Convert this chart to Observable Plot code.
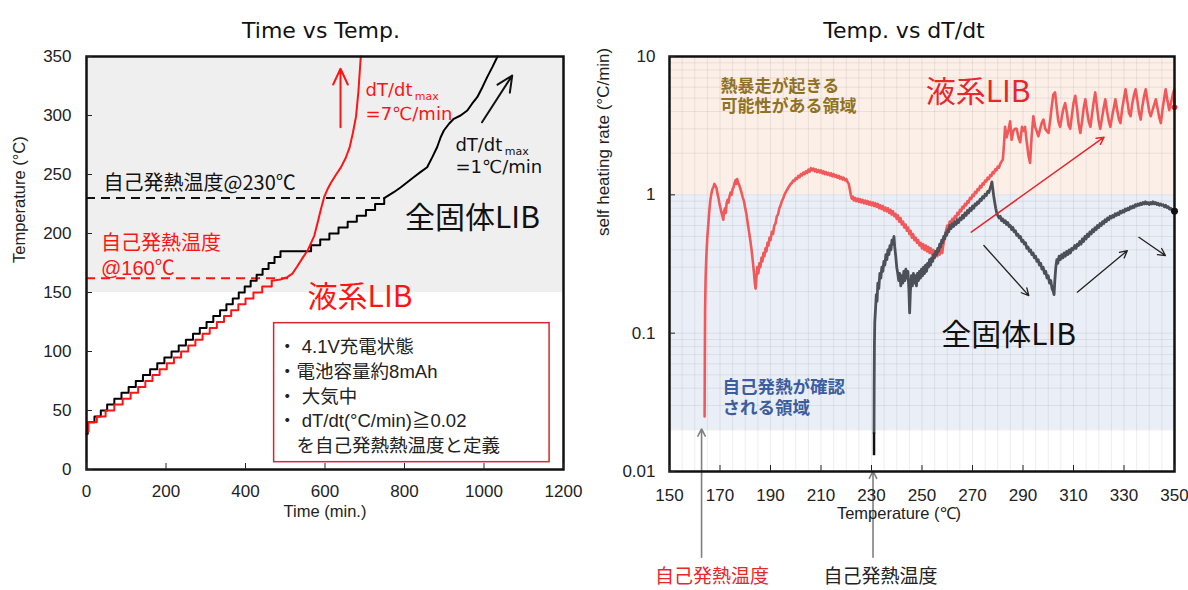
<!DOCTYPE html>
<html><head><meta charset="utf-8">
<script src="https://cdn.jsdelivr.net/npm/d3@7"></script>
<script src="https://cdn.jsdelivr.net/npm/@observablehq/plot@0.6"></script>
<style>
body{margin:0;background:#fff;}
#wrap{position:relative;width:1188px;height:590px;overflow:hidden;}
#left{position:absolute;left:0;top:0;}
#right{position:absolute;left:590px;top:0;}
</style></head><body>
<div id="wrap"><div id="left"></div><div id="right"></div></div>
<script>
// ---------------- Left panel: Time vs Temp. ----------------
const timeTicks = [0, 200, 400, 600, 800, 1000, 1200];
const tempTicks = [0, 50, 100, 150, 200, 250, 300, 350];

// 全固体LIB (black): heat-wait-search staircase, then self-heating ramp
const solidStepTime = [0,3,20,36,52,70,88,106,124,142,160,178,196,214,232,250,268,285,302,319,336,352,368,383,398,413,428,443,458,473,488,565,588,611,634,657,680,703,726,749];
const solidStepTemp = [30,40,45,50,55,60,65,70,75,80,85,90,95,100,105,110,115,120,125,130,135,140,145,150,155,160,165,170,175,180,185,190,195,200,205,210,215,220,225,230];
const solidRampTime = [749,773,790,807,823,840,857,870,882,891,899,912,924,941,958,970,983,996,1008,1021,1034];
const solidRampTemp = [230,235,239,243.5,247.7,252,256.2,264.7,273.1,281.6,287.3,293,297.2,300,304.2,310,315.5,324,332.5,341,350];

// 液系LIB (red)
const liquidStepTime = [0,5,26,48,70,91,111,130,148,166,184,202,220,238,256,274,292,310,328,346,364,382,400,420,442,466];
const liquidStepTemp = [32,40,45,50,55,60,65,70,75,80,85,90,95,100,105,110,115,120,125,130,135,140,145,150,155,160];
const liquidRampTime = [466,488,505,518,530,545,557,565,573,582,590,598,607,615,628,640,652,662,670,678,684,688,690];
const liquidRampTemp = [160,161,163,166,172,180,186,192,198,210,221,231,238,243,250,256,264,273,285,299,320,340,350];

const selfHeatBand = [150, 350];          // grey zone
const onsetTemps = [230, 162];            // dashed onset lines (solid, liquid)
const onsetEndTimes = [749, 508];

// ---------------- Right panel: Temp. vs dT/dt ----------------
const rateTempTicks = [150,170,190,210,230,250,270,290,310,330,350];
const rateTicks = [0.01, 0.1, 1, 10];
const runawayBand = [1, 10];
const detectBand = [0.02, 1];

const liquidRate = [
[163.9,0.025],[164,0.07],[164.1,0.15],[164.3,0.25],[164.6,0.36],[165,0.5],[165.4,0.62],[165.8,0.78],[166.2,0.92],[166.6,1.02],[167,1.1],[167.4,1.14],[167.8,1.2],[168.2,1.16],[168.6,1.12],[169,1.02],[169.4,0.95],[169.8,0.86],[170.2,0.8],[170.6,0.74],[171,0.7],[171.3,0.66],[171.6,0.76],[172,0.8],[172.3,0.74],[172.6,0.86],[173,0.92],[173.4,0.88],[173.8,0.98],[174.2,1.04],[174.6,1.0],[175,1.1],[175.4,1.14],[175.8,1.22],[176.2,1.28],[176.5,1.2],[176.8,1.3],[177.2,1.22],[177.6,1.18],[178,1.12],[178.5,1.04],[179,0.96],[179.5,0.9],[180,0.8],[180.5,0.72],[181,0.62],[181.5,0.54],[182,0.47],[182.5,0.4],[183,0.33],[183.4,0.28],[183.8,0.23],[184.1,0.21],[184.4,0.25],[184.8,0.3],[185.2,0.27],[185.6,0.32],[186,0.3],[186.4,0.35],[186.8,0.33],[187.2,0.38],[187.6,0.36],[188,0.41],[188.4,0.39],[188.8,0.45],[189.2,0.43],[189.6,0.49],[190,0.47],[190.5,0.54],[191,0.52],[191.5,0.6],[192,0.62],[192.5,0.7],[193,0.72],[193.5,0.8],[194,0.84],[194.5,0.9],[195,0.94],[195.5,1.0],[196,1.04],[196.5,1.08],[197,1.12],[197.5,1.16],[198,1.2],[198.5,1.22],[199,1.27],[199.5,1.26],[200,1.32],[200.5,1.3],[201,1.37],[201.5,1.34],[202,1.41],[202.5,1.38],[203,1.45],[203.5,1.41],[204,1.48],[204.5,1.44],[205,1.52],[205.5,1.47],[206,1.56],[206.5,1.5],[207,1.55],[207.5,1.48],[208,1.53],[208.5,1.46],[209,1.51],[209.5,1.45],[210,1.5],[210.5,1.43],[211,1.48],[211.5,1.41],[212,1.46],[212.5,1.4],[213,1.44],[213.5,1.38],[214,1.43],[214.5,1.36],[215,1.41],[215.5,1.35],[216,1.39],[216.5,1.33],[217,1.37],[217.5,1.31],[218,1.35],[218.5,1.29],[219,1.33],[219.5,1.27],[220,1.3],[220.5,1.24],[221,1.2],[221.4,1.1],[221.8,1.0],[222.2,0.94],[222.6,0.97],[223,0.91],[223.5,0.95],[224,0.9],[224.5,0.94],[225,0.89],[225.5,0.93],[226,0.88],[226.5,0.92],[227,0.87],[227.5,0.91],[228,0.86],[228.5,0.9],[229,0.85],[229.5,0.89],[230,0.84],[230.5,0.88],[231,0.83],[231.5,0.87],[232,0.82],[232.5,0.86],[233,0.8],[233.5,0.84],[234,0.79],[234.5,0.83],[235,0.77],[235.5,0.81],[236,0.76],[236.5,0.8],[237,0.74],[237.5,0.78],[238,0.72],[238.5,0.76],[239,0.7],[239.5,0.73],[240,0.67],[240.5,0.71],[241,0.64],[241.5,0.68],[242,0.61],[242.5,0.64],[243,0.58],[243.5,0.61],[244,0.55],[244.5,0.58],[245,0.52],[245.5,0.55],[246,0.49],[246.5,0.52],[247,0.47],[247.5,0.49],[248,0.45],[248.5,0.47],[249,0.43],[249.5,0.45],[250,0.41],[250.5,0.44],[251,0.4],[251.5,0.43],[252,0.39],[252.5,0.42],[253,0.38],[253.5,0.41],[254,0.37],[254.5,0.4],[255,0.36],[255.5,0.39],[256,0.36],[256.5,0.4],[257,0.37],[257.5,0.41],[258,0.38],[258.5,0.44],[259,0.5],[259.5,0.55],[260,0.6],[260.5,0.58],[261,0.64],[261.5,0.62],[262,0.67],[262.5,0.65],[263,0.7],[263.5,0.68],[264,0.74],[264.5,0.72],[265,0.78],[265.5,0.76],[266,0.82],[266.5,0.8],[267,0.86],[267.5,0.84],[268,0.9],[268.5,0.88],[269,0.95],[269.5,0.93],[270,1.0],[270.5,0.98],[271,1.05],[271.5,1.03],[272,1.1],[272.5,1.08],[273,1.16],[273.5,1.13],[274,1.21],[274.5,1.19],[275,1.27],[275.5,1.25],[276,1.33],[276.5,1.3],[277,1.39],[277.5,1.37],[278,1.46],[278.5,1.43],[279,1.53],[279.5,1.5],[280,1.6],[280.5,1.57],[281,1.68],[281.5,1.74],[282,1.8],
[282.4,2.2],[282.9,3.1],[283.5,2.6],[284.2,2.9],[284.9,3.4],[285.5,2.5],[286.2,2.9],[286.8,3.0],[287.5,3.0],[288.2,2.6],[288.9,2.4],[289.6,3.1],[290.2,2.9],[290.8,3.1],[291.5,2.4],[292.2,1.9],[292.8,1.7],[293.4,2.6],[294.1,3.7],[294.8,3.1],[295.4,2.9],[296.1,2.65],[296.8,3.0],[297.4,3.3],[298.1,3.5],[298.8,3.0],[299.4,2.9],[300.1,2.8],[300.8,3.5],[301.4,4.4],[302,5.3],[302.7,5.5],[303.4,4.2],[304,3.4],[304.7,3.1],[305.3,3.6],[306,4.2],[306.7,4.6],[307.4,3.9],[308,3.2],[308.7,3.0],[309.4,3.8],[310,4.6],[310.7,5.2],[311.4,4.2],[312,3.3],[312.7,2.8],[313.4,3.4],[314,4.2],[314.7,4.9],[315.4,4.0],[316,3.4],[316.7,3.1],[317.4,3.9],[318,4.7],[318.6,5.5],[319.3,4.3],[320,3.4],[320.6,3.0],[321.3,3.6],[322,4.3],[322.6,4.9],[323.3,4.0],[324,3.4],[324.6,3.1],[325.3,3.7],[326,4.3],[326.6,4.9],[327.3,4.1],[328,3.5],[328.6,3.3],[329.3,4.2],[330,5.0],[330.6,5.8],[331.3,4.8],[332,3.9],[332.6,3.7],[333.3,4.6],[334,5.3],[334.6,5.8],[335.3,4.8],[336,3.9],[336.6,3.5],[337.3,4.4],[338,5.2],[338.6,5.8],[339.3,4.8],[340,4.0],[340.6,3.7],[341.3,4.1],[342,4.5],[342.6,4.9],[343.3,4.2],[344,3.6],[344.6,3.3],[345.3,4.2],[346,5.1],[346.5,5.8],[347.2,4.8],[347.9,4.1],[348.6,4.6],[349.3,5.3],[349.9,5.8],[350,4.3]
];

const solidRate = [
[231,0.019],[231.05,0.04],[231.15,0.08],[231.3,0.12],[231.6,0.15],[231.9,0.19],[232.2,0.17],[232.5,0.23],[232.9,0.21],[233.3,0.27],[233.7,0.25],[234.1,0.3],[234.5,0.28],[234.9,0.33],[235.3,0.31],[235.7,0.37],[236.1,0.34],[236.5,0.4],[236.9,0.37],[237.3,0.43],[237.7,0.4],[238.1,0.47],[238.5,0.44],[238.9,0.5],[239.2,0.42],[239.6,0.36],[240,0.3],[240.4,0.27],[240.8,0.24],[241.2,0.27],[241.6,0.22],[242,0.26],[242.4,0.23],[242.8,0.28],[243.2,0.24],[243.6,0.29],[244,0.25],[244.4,0.28],[244.8,0.21],[245.1,0.14],[245.4,0.2],[245.8,0.26],[246.2,0.22],[246.6,0.27],[247,0.23],[247.4,0.26],[247.8,0.22],[248.2,0.27],[248.6,0.24],[249,0.28],[249.4,0.25],[249.8,0.29],[250.2,0.26],[250.6,0.3],[251,0.27],[251.4,0.31],[251.8,0.28],[252.2,0.32],[252.6,0.3],[253,0.34],[253.4,0.31],[253.8,0.35],[254.2,0.33],[254.6,0.37],[255,0.35],[255.4,0.39],[255.8,0.37],[256.2,0.41],[256.6,0.39],[257,0.44],[257.4,0.42],[257.8,0.47],[258.2,0.45],[258.6,0.5],[259,0.48],[259.4,0.53],[259.8,0.51],[260.2,0.56],[260.6,0.54],[261,0.6],[261.5,0.57],[262,0.62],[262.5,0.59],[263,0.64],[263.5,0.61],[264,0.66],[264.5,0.63],[265,0.68],[265.5,0.66],[266,0.71],[266.5,0.68],[267,0.74],[267.5,0.71],[268,0.77],[268.5,0.74],[269,0.8],[269.5,0.77],[270,0.83],[270.5,0.8],[271,0.86],[271.5,0.84],[272,0.89],[272.5,0.87],[273,0.93],[273.5,0.91],[274,0.97],[274.5,0.95],[275,1.01],[275.5,0.99],[276,1.06],[276.5,1.04],[277,1.12],[277.4,1.18],[277.7,1.24],[278,1.12],[278.4,0.98],[278.8,0.88],[279.2,0.8],[279.6,0.74],[280,0.71],[280.5,0.68],[281,0.7],[281.5,0.65],[282,0.67],[282.5,0.63],[283,0.65],[283.5,0.61],[284,0.63],[284.5,0.59],[285,0.6],[285.5,0.56],[286,0.58],[286.5,0.54],[287,0.55],[287.5,0.51],[288,0.52],[288.5,0.49],[289,0.5],[289.5,0.46],[290,0.47],[290.5,0.44],[291,0.45],[291.5,0.41],[292,0.42],[292.5,0.39],[293,0.4],[293.5,0.37],[294,0.38],[294.5,0.35],[295,0.36],[295.5,0.33],[296,0.34],[296.5,0.31],[297,0.32],[297.5,0.29],[298,0.3],[298.5,0.27],[299,0.28],[299.5,0.25],[300,0.26],[300.5,0.23],[301,0.24],[301.5,0.21],[302,0.2],[302.3,0.19],[302.6,0.24],[303,0.3],[303.4,0.34],[303.8,0.32],[304.3,0.36],[304.8,0.34],[305.3,0.37],[305.8,0.35],[306.3,0.38],[306.8,0.36],[307.3,0.39],[307.8,0.37],[308.3,0.4],[308.8,0.38],[309.3,0.41],[309.8,0.4],[310.5,0.43],[311,0.41],[311.5,0.44],[312,0.43],[312.5,0.46],[313,0.44],[313.5,0.48],[314,0.46],[314.5,0.5],[315,0.48],[315.5,0.52],[316,0.5],[316.5,0.54],[317,0.52],[317.5,0.56],[318,0.54],[318.5,0.58],[319,0.56],[319.5,0.6],[320,0.58],[320.5,0.62],[321,0.6],[321.5,0.64],[322,0.62],[322.5,0.66],[323,0.64],[323.5,0.68],[324,0.66],[324.5,0.7],[325,0.68],[325.5,0.71],[326,0.69],[326.5,0.73],[327,0.71],[327.5,0.74],[328,0.72],[328.5,0.76],[329,0.74],[329.5,0.77],[330,0.75],[330.5,0.79],[331,0.77],[331.5,0.8],[332,0.78],[332.5,0.82],[333,0.8],[333.5,0.83],[334,0.81],[334.5,0.85],[335,0.83],[335.5,0.86],[336,0.84],[336.5,0.87],[337,0.85],[337.5,0.88],[338,0.86],[338.5,0.89],[339,0.86],[339.5,0.88],[340,0.85],[340.5,0.88],[341,0.86],[341.5,0.89],[342,0.86],[342.5,0.88],[343,0.85],[343.5,0.87],[344,0.84],[344.5,0.86],[345,0.84],[345.5,0.85],[346,0.82],[346.5,0.84],[347,0.81],[347.5,0.82],[348,0.79],[348.5,0.8],[349,0.77],[349.5,0.78],[350,0.76]
];
const solidOnsetTail = [0.013, 0.019];   // dark segment at onset
const endPoints = [[350, 4.3, "liquid"], [350, 0.76, "solid"]];

// ---------------- Annotations (data coordinates) ----------------
const leftNotes = [
  ["自己発熱温度@230℃", 42.8, 242.6],
  ["自己発熱温度\n@160℃", 36.5, 182],
  ["全固体LIB", 971, 212.5],
  ["液系LIB", 688, 146]
];
const rateNotesLeft = [["dT/dt", 702, 321.2], ["max", 826, 316.5], ["=7℃/min", 702, 301.4]];
const rateNotesRight = [["dT/dt", 928, 274.6], ["max", 1052, 269.9], ["=1℃/min", 928, 256.2]];
const conditionBox = [{x1: 472, x2: 1165, y1: 6.2, y2: 124}];
const conditionText = "・ 4.1V充電状態\n・電池容量約8mAh\n・ 大気中\n・ dT/dt(°C/min)≧0.02\n　を自己発熱熱温度と定義";
const conditionAt = [482, 63.4];
const leftArrows = [
  {x1: 639, y1: 290, x2: 639, y2: 339.6, c: "#ff1414"},
  {x1: 995, y1: 294.3, x2: 1071, y2: 333.9, c: "#111"}
];

const rightArrows = [
  {x1: 269.5, y1: 0.537, x2: 322.1, y2: 2.61, c: "#e8262c", w: 1.5},
  {x1: 274.5, y1: 0.43, x2: 292.3, y2: 0.187, c: "#222", w: 1.3},
  {x1: 311.5, y1: 0.198, x2: 331.3, y2: 0.395, c: "#222", w: 1.3},
  {x1: 335.9, y1: 0.493, x2: 346.4, y2: 0.364, c: "#222", w: 1.3},
  {x1: 162.7, y1: 0.0024, x2: 162.7, y2: 0.0203, c: "#808080", w: 1.6},
  {x1: 230.6, y1: 0.0024, x2: 230.6, y2: 0.01005, c: "#808080", w: 1.6}
];
const runawayNote = [["熱暴走が起きる\n可能性がある領域", 170.2, 5.23]];
const detectNote = [["自己発熱が確認\nされる領域", 171, 0.0349]];
const rightBig = [["液系LIB", 272.2, 5.52, "#e8262c"], ["全固体LIB", 284.3, 0.0962, "#111"]];
const onsetLabels = [["自己発熱温度", 166.8, 0.00172, "#e8262c"], ["自己発熱温度", 233.6, 0.00172, "#222"]];

// ---------------- Build ----------------
const JP = "'Noto Sans CJK JP', 'Noto Sans', sans-serif";
const JPC = "'Liberation Sans', 'Noto Sans CJK JP', sans-serif";  // compact line box for stacked notes
const LAT = "'Liberation Sans', Arial, sans-serif";
const DV = "'DejaVu Sans', sans-serif";
const RED = "#ff1414";
const plain = d => String(d);

const solidSteps = solidStepTime.map((t, i) => ({t, T: solidStepTemp[i]}));
const solidRamp = solidRampTime.map((t, i) => ({t, T: solidRampTemp[i]}));
const liquidSteps = liquidStepTime.map((t, i) => ({t, T: liquidStepTemp[i]}));
const liquidRamp = liquidRampTime.map((t, i) => ({t, T: liquidRampTemp[i]}));

const leftPlot = Plot.plot({
  width: 590, height: 590,
  marginLeft: 86, marginRight: 27, marginTop: 56, marginBottom: 121,
  x: {domain: [0, 1200]},
  y: {domain: [0, 350]},
  style: {fontFamily: LAT, fontSize: "17px", color: "#222", background: "white"},
  marks: [
    Plot.rect([selfHeatBand], {x1: 0, x2: 1200, y1: d => d[0], y2: d => d[1], fill: "#efefef"}),
    Plot.ruleY([onsetTemps[0]], {x1: 0, x2: onsetEndTimes[0], stroke: "#111", strokeWidth: 2, strokeDasharray: "9,6"}),
    Plot.ruleY([onsetTemps[1]], {x1: 0, x2: onsetEndTimes[1], stroke: RED, strokeWidth: 2, strokeDasharray: "9,6"}),
    Plot.line(solidSteps, {x: "t", y: "T", curve: "step-after", stroke: "#000", strokeWidth: 2}),
    Plot.line(solidRamp, {x: "t", y: "T", stroke: "#000", strokeWidth: 2}),
    Plot.line(liquidSteps, {x: "t", y: "T", curve: "step-after", stroke: RED, strokeWidth: 2}),
    Plot.line(liquidRamp, {x: "t", y: "T", stroke: RED, strokeWidth: 2}),
    Plot.arrow(leftArrows, {x1: "x1", y1: "y1", x2: "x2", y2: "y2", stroke: "c", strokeWidth: 2, headLength: 13, headAngle: 50}),
    Plot.text(leftNotes.slice(0, 1), {x: d => d[1], y: d => d[2], text: d => d[0], textAnchor: "start", fill: "#111", fontSize: 20, fontFamily: JP}),
    Plot.text(leftNotes.slice(1, 2), {x: d => d[1], y: d => d[2], text: d => d[0], textAnchor: "start", fill: RED, fontSize: 20, lineHeight: 1.25, fontFamily: JPC}),
    Plot.text(leftNotes.slice(2, 3), {x: d => d[1], y: d => d[2], text: d => d[0], fill: "#111", fontSize: 30, fontFamily: JP}),
    Plot.text(leftNotes.slice(3, 4), {x: d => d[1], y: d => d[2], text: d => d[0], fill: RED, fontSize: 30, fontFamily: JP}),
    Plot.text([rateNotesLeft[0], rateNotesLeft[2]], {x: d => d[1], y: d => d[2], text: d => d[0], textAnchor: "start", fill: RED, fontSize: 18, fontFamily: DV}),
    Plot.text([rateNotesLeft[1]], {x: d => d[1], y: d => d[2], text: d => d[0], textAnchor: "start", fill: RED, fontSize: 11, fontFamily: DV}),
    Plot.text([rateNotesRight[0], rateNotesRight[2]], {x: d => d[1], y: d => d[2], text: d => d[0], textAnchor: "start", fill: "#111", fontSize: 18, fontFamily: DV}),
    Plot.text([rateNotesRight[1]], {x: d => d[1], y: d => d[2], text: d => d[0], textAnchor: "start", fill: "#111", fontSize: 11, fontFamily: DV}),
    Plot.rect(conditionBox, {x1: "x1", x2: "x2", y1: "y1", y2: "y2", fill: "white", stroke: "#d8282e", strokeWidth: 1.5}),
    Plot.text([conditionText], {x: conditionAt[0], y: conditionAt[1], text: d => d, textAnchor: "start", lineHeight: 1.33, fill: "#222", fontSize: 18.5, fontFamily: JPC}),
    Plot.frame({stroke: "#111", strokeWidth: 2.5}),
    Plot.axisY({ticks: tempTicks, tickFormat: plain, tickSize: -6, tickPadding: 21, label: null, fontSize: 17}),
    Plot.axisX({ticks: timeTicks, tickFormat: plain, tickSize: -6, tickPadding: 21, label: null, fontSize: 17}),
    Plot.text(["Time vs Temp."], {frameAnchor: "top", dx: -4, dy: -34, fontSize: 22, fontFamily: DV, fill: "#111"}),
    Plot.text(["Time (min.)"], {frameAnchor: "bottom", dy: 47, fontSize: 16.5, fill: "#222"}),
    Plot.text(["Temperature (°C)"], {frameAnchor: "left", dx: -67, rotate: -90, fontSize: 16.5, fill: "#222"})
  ]
});
document.getElementById("left").appendChild(leftPlot);

const vGrid = d3.range(155, 350, 5);
const hGrid = [0.02,0.03,0.04,0.05,0.06,0.07,0.08,0.09,0.1,0.2,0.3,0.4,0.5,0.6,0.7,0.8,0.9,1,2,3,4,5,6,7,8,9];

const rightPlot = Plot.plot({
  width: 598, height: 590,
  marginLeft: 79, marginRight: 14, marginTop: 56, marginBottom: 119,
  x: {domain: [150, 350]},
  y: {type: "log", domain: [0.01, 10]},
  style: {fontFamily: LAT, fontSize: "17px", color: "#222", background: "white"},
  marks: [
    Plot.rect([runawayBand], {x1: 150, x2: 350, y1: d => d[0], y2: d => d[1], fill: "#fcefe8"}),
    Plot.rect([detectBand], {x1: 150, x2: 350, y1: d => d[0], y2: d => d[1], fill: "#eaeff7"}),
    Plot.ruleX(vGrid, {stroke: "#000", strokeOpacity: 0.07, strokeWidth: 1}),
    Plot.ruleY(hGrid, {stroke: "#000", strokeOpacity: 0.07, strokeWidth: 1}),
    Plot.line(liquidRate, {x: d => d[0], y: d => d[1], stroke: "#f0585a", strokeWidth: 2.6, strokeLinejoin: "round"}),
    Plot.line(solidRate, {x: d => d[0], y: d => d[1], stroke: "#4b5059", strokeWidth: 2.8, strokeLinejoin: "round"}),
    Plot.ruleX([231], {y1: solidOnsetTail[0], y2: solidOnsetTail[1], stroke: "#111", strokeWidth: 2.5}),
    Plot.dot(endPoints, {x: d => d[0], y: d => d[1], r: d => d[2] === "solid" ? 4.5 : 3, fill: d => d[2] === "solid" ? "#111" : "#e8262c"}),
    Plot.arrow(rightArrows, {x1: "x1", y1: "y1", x2: "x2", y2: "y2", stroke: "c", strokeWidth: "w", headLength: 12, headAngle: 55}),
    Plot.text(runawayNote, {x: d => d[1], y: d => d[2], text: d => d[0], textAnchor: "start", lineHeight: 1.18, fill: "#8f7225", fontSize: 17, fontWeight: "bold", fontFamily: JPC}),
    Plot.text(detectNote, {x: d => d[1], y: d => d[2], text: d => d[0], textAnchor: "start", lineHeight: 1.24, fill: "#3d5d9e", fontSize: 17.5, fontWeight: "bold", fontFamily: JPC}),
    Plot.text(rightBig, {x: d => d[1], y: d => d[2], text: d => d[0], fill: d => d[3], fontSize: 30, fontFamily: JP}),
    Plot.text(onsetLabels, {x: d => d[1], y: d => d[2], text: d => d[0], fill: d => d[3], fontSize: 19, fontFamily: JP}),
    Plot.frame({stroke: "#111", strokeWidth: 2.5}),
    Plot.axisY({ticks: rateTicks, tickFormat: plain, tickSize: -6, tickPadding: 20, label: null, fontSize: 17}),
    Plot.axisX({ticks: rateTempTicks, tickFormat: plain, tickSize: -6, tickPadding: 23, label: null, fontSize: 17}),
    Plot.text(["Temp. vs dT/dt"], {frameAnchor: "top", dx: -18, dy: -34, fontSize: 22, fontFamily: DV, fill: "#111"}),
    Plot.text(["Temperature (℃)"], {frameAnchor: "bottom", dx: -23, dy: 47, fontSize: 16.5, fill: "#222"}),
    Plot.text(["self heating rate (°C/min)"], {frameAnchor: "left", dx: -66, dy: -28, rotate: -90, fontSize: 17, fill: "#222"})
  ]
});
document.getElementById("right").appendChild(rightPlot);
</script>
</body></html>
